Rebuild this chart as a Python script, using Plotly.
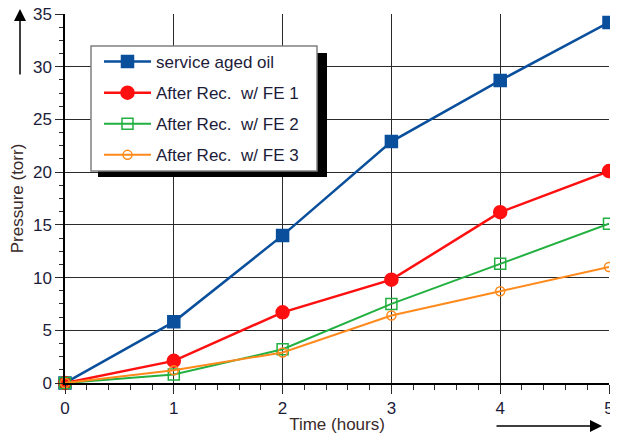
import plotly.graph_objects as go

hours = [0, 1, 2, 3, 4, 5]
service_aged = [0, 5.8, 14.0, 22.9, 28.7, 34.2]
fe1 = [0, 2.1, 6.7, 9.8, 16.2, 20.1]
fe2 = [0, 0.8, 3.2, 7.5, 11.3, 15.1]
fe3 = [0, 1.2, 2.9, 6.4, 8.7, 11.0]
names = ["service aged oil", "After Rec.  w/ FE 1", "After Rec.  w/ FE 2", "After Rec.  w/ FE 3"]

# page body has an 8px margin, so the figure is drawn 8px smaller
OFF = 8
W, H = 618 - OFF, 434 - OFF
L, R, T, B = 65 - OFF, 9, 14 - OFF, 51
PW, PH = W - L - R, H - T - B

def px(x):  # x in screen pixels -> paper
    return (x - OFF - L) / PW

def py(y):  # y in screen pixels -> paper
    return (H - B - (y - OFF)) / PH

FONT = "Liberation Sans, Arial, sans-serif"
TXT = "#1c1c3a"

fig = go.Figure()
styles = [
    (service_aged, "#0a4f9c", "square", 12, 2.5),
    (fe1, "#ff1010", "circle", 13, 2.5),
    (fe2, "#22b040", "square-open", 11, 2),
    (fe3, "#ff8a1c", "circle-open", 9, 2),
]
for i, (ys, c, sym, sz, lw) in enumerate(styles):
    fig.add_trace(go.Scatter(
        x=hours, y=ys, name=names[i], mode="lines+markers",
        line=dict(color=c, width=lw),
        marker=dict(color=c, symbol=sym, size=sz, line=dict(color=c, width=1.5)),
        cliponaxis=False, legendgroup=f"g{i}",
    ))

shapes = [
    dict(type="rect", xref="paper", yref="paper", x0=px(98), x1=px(327), y0=py(177), y1=py(53),
         fillcolor="black", line=dict(width=0), layer="above"),
    dict(type="rect", xref="paper", yref="paper", x0=px(91), x1=px(317), y0=py(171), y1=py(46),
         fillcolor="white", line=dict(color="#808080", width=1.5), layer="above"),
]

annotations = [
    dict(xref="paper", yref="paper", x=px(20), y=py(9), ax=0, ay=67,
         showarrow=True, arrowhead=2, arrowsize=1.6,
         arrowwidth=1.5, arrowcolor="black", text=""),
    dict(xref="paper", yref="paper", x=px(602), y=py(426), ax=-107, ay=0,
         showarrow=True, arrowhead=2, arrowsize=1.6,
         arrowwidth=1.5, arrowcolor="black", text=""),
]

fig.update_layout(
    width=W, height=H,
    margin=dict(l=L, r=R, t=T, b=B),
    paper_bgcolor="white", plot_bgcolor="white",
    font=dict(family=FONT, size=17, color=TXT),
    showlegend=True,
    legend=dict(x=px(99), y=py(44), xanchor="left", yanchor="top",
                bgcolor="rgba(0,0,0,0)", borderwidth=0,
                font=dict(size=17, color=TXT), tracegroupgap=6,
                itemwidth=47),
    shapes=shapes,
    annotations=annotations,
    xaxis=dict(range=[0, 5], dtick=1, showgrid=True, gridcolor="#2a2a2a", gridwidth=1.2,
               showline=True, linecolor="black", linewidth=1.5, zeroline=False,
               ticks="outside", ticklen=9, tickcolor="#2a2a2a", automargin=False,
               ticklabeloverflow="allow",
               minor=dict(dtick=0.2, ticks="outside", ticklen=5, tickcolor="#2a2a2a", showgrid=False),
               title=dict(text="Time (hours)", font=dict(size=17, color="#3a2a2a"), standoff=2),
               tickfont=dict(size=17, color=TXT)),
    yaxis=dict(range=[0, 35], dtick=5, showgrid=True, gridcolor="#2a2a2a", gridwidth=1.2,
               showline=True, linecolor="black", linewidth=1.5, zeroline=False,
               ticks="outside", ticklen=8, tickcolor="#2a2a2a", automargin=False,
               ticklabeloverflow="allow",
               minor=dict(dtick=1.25, ticks="outside", ticklen=4, tickcolor="#2a2a2a", showgrid=False),
               title=dict(text="Pressure (torr)", font=dict(size=17, color="#3a2a2a"), standoff=6),
               tickfont=dict(size=17, color=TXT)),
)

fig.write_html("out.html")
